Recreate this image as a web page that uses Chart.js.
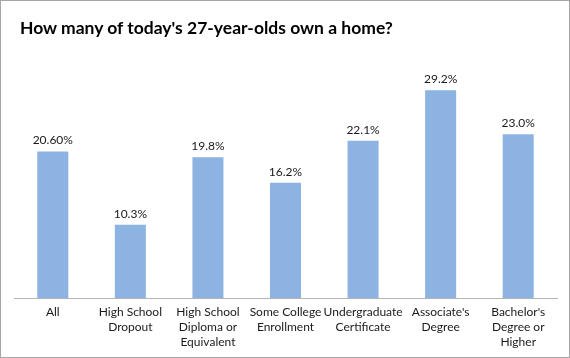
<!DOCTYPE html>
<html>
  <head>
    <script src="https://cdn.jsdelivr.net/npm/chart.js@4/dist/chart.umd.min.js"></script>
    <style>
      body { margin: 0; background: #fff; }
      #wrap {
        width: 568px;
        height: 356px;
        border: 1px solid #a6a6a6;
        position: relative;
      }
      #title {
        position: absolute;
        left: 19px;
        top: 16px;
        font: bold 17.5px Lato, sans-serif;
        color: #000;
        white-space: nowrap;
      }
    </style>
  </head>
  <body>
    <div id="wrap">
      <div id="title">How many of today's 27-year-olds own a home?</div>
      <canvas id="chart-homes"></canvas>
    </div>
    <script>
      // INPUT DATA

      const categories = [
        ["All"],
        ["High School", "Dropout"],
        ["High School", "Diploma or", "Equivalent"],
        ["Some College", "Enrollment"],
        ["Undergraduate", "Certificate"],
        ["Associate's", "Degree"],
        ["Bachelor's", "Degree or", "Higher"],
      ];
      const shareOwning = [20.6, 10.3, 19.8, 16.2, 22.1, 29.2, 23.0];
      const valueLabels = ["20.60%", "10.3%", "19.8%", "16.2%", "22.1%", "29.2%", "23.0%"];

      // value labels above each bar
      const barLabels = {
        id: "barLabels",
        afterDatasetsDraw: function (chart) {
          const ctx = chart.ctx;
          const meta = chart.getDatasetMeta(0);
          ctx.save();
          ctx.font = "12px Lato";
          ctx.fillStyle = "#1a1a1a";
          ctx.textAlign = "center";
          ctx.textBaseline = "bottom";
          meta.data.forEach(function (bar, i) {
            ctx.fillText(valueLabels[i], bar.x, bar.y - 5);
          });
          ctx.restore();
        },
      };

      const ctx = document.getElementById("chart-homes").getContext("2d");
      new Chart(ctx, {
        type: "bar",
        data: {
          labels: categories,
          datasets: [
            {
              data: shareOwning,
              backgroundColor: "#8db3e2",
              categoryPercentage: 1,
              barPercentage: 0.4,
            },
          ],
        },
        options: {
          responsive: true,
          maintainAspectRatio: false,
          animation: false,
          layout: { padding: { left: 13, right: 12, top: 48, bottom: 0 } },
          plugins: {
            legend: { display: false },
            tooltip: { enabled: false },
          },
          scales: {
            x: {
              grid: { display: false, drawTicks: false },
              border: { color: "#b3b3b3", width: 1 },
              ticks: {
                color: "#1a1a1a",
                font: { family: "Lato", size: 12, lineHeight: "15px" },
                padding: 7,
                maxRotation: 0,
                autoSkip: false,
              },
            },
            y: {
              display: false,
              min: 0,
              max: 35,
            },
          },
        },
        plugins: [barLabels],
      });
    </script>
  </body>
</html>
